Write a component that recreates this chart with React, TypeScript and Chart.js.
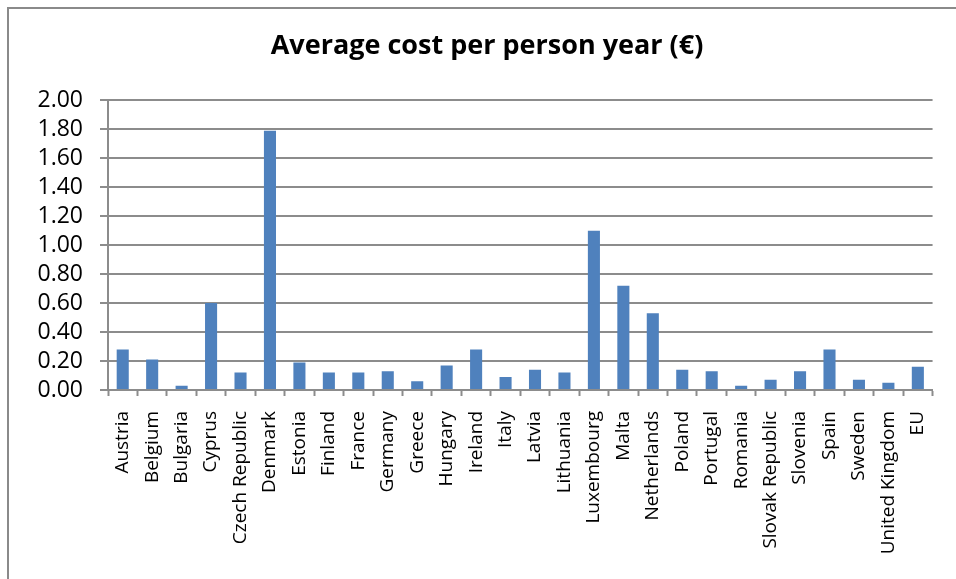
import React, { useEffect, useRef } from "react";
import { Chart, registerables } from "chart.js";

Chart.register(...registerables);

const countries: string[] = [
  "Austria", "Belgium", "Bulgaria", "Cyprus", "Czech Republic", "Denmark",
  "Estonia", "Finland", "France", "Germany", "Greece", "Hungary", "Ireland",
  "Italy", "Latvia", "Lithuania", "Luxembourg", "Malta", "Netherlands",
  "Poland", "Portugal", "Romania", "Slovak Republic", "Slovenia", "Spain",
  "Sweden", "United Kingdom", "EU",
];

const averageCost: number[] = [
  0.28, 0.21, 0.03, 0.6, 0.12, 1.79,
  0.19, 0.12, 0.12, 0.13, 0.06, 0.17, 0.28,
  0.09, 0.14, 0.12, 1.1, 0.72, 0.53,
  0.14, 0.13, 0.03, 0.07, 0.13, 0.28,
  0.07, 0.05, 0.16,
];

const chartTitle = "Average cost per person year (\u20ac)";
const yMin = 0;
const yMax = 2;
const yStep = 0.2;

const AXIS_GREY = "#8c8c8c";
const BAR_BLUE = "#4f81bd";

export default function App() {
  const canvasRef = useRef<HTMLCanvasElement | null>(null);

  useEffect(() => {
    const canvas = canvasRef.current;
    if (!canvas) return;
    const chart = new Chart(canvas, {
      type: "bar",
      data: {
        labels: countries,
        datasets: [
          {
            label: chartTitle,
            data: averageCost,
            backgroundColor: BAR_BLUE,
            borderWidth: 0,
            barPercentage: 0.41,
            categoryPercentage: 1,
          },
        ],
      },
      options: {
        animation: false,
        responsive: false,
        maintainAspectRatio: false,
        layout: { padding: { top: 0, right: 20, bottom: 0, left: 38 } },
        plugins: {
          legend: { display: false },
          tooltip: { enabled: false },
          title: {
            display: true,
            text: chartTitle,
            color: "#000000",
            font: { family: "Open Sans", size: 27, weight: "bold", lineHeight: 1.2 },
            padding: { top: 30, bottom: 38 },
          },
        },
        scales: {
          x: {
            grid: {
              display: true,
              drawOnChartArea: false,
              drawTicks: true,
              tickLength: 6,
              tickWidth: 2,
              tickColor: AXIS_GREY,
            },
            border: { display: true, color: AXIS_GREY, width: 2 },
            ticks: {
              autoSkip: false,
              maxRotation: 90,
              minRotation: 90,
              padding: 15,
              color: "#000000",
              font: { family: "Open Sans", size: 19 },
            },
            afterFit: (scale: any) => {
              scale.height = 189;
            },
          },
          y: {
            min: yMin,
            max: yMax,
            ticks: {
              stepSize: yStep,
              autoSkip: false,
              maxTicksLimit: 20,
              padding: 17,
              color: "#000000",
              font: { family: "Open Sans", size: 23, lineHeight: 1 },
              callback: (v: any) => Number(v).toFixed(2),
            },
            grid: {
              color: AXIS_GREY,
              lineWidth: 2,
              tickLength: 8,
            },
            border: { display: true, color: AXIS_GREY, width: 2 },
            afterFit: (scale: any) => {
              scale.width = 70;
            },
          },
        },
      },
    });
    return () => chart.destroy();
  }, []);

  return (
    <div
      style={{
        position: "fixed",
        left: 0,
        top: 0,
        width: 956,
        height: 579,
        overflow: "hidden",
        background: "#ffffff",
      }}
    >
      <div
        style={{
          position: "absolute",
          left: 7,
          top: 7,
          width: 1100,
          height: 800,
          border: "2px solid #8a8a8a",
          boxSizing: "border-box",
        }}
      />
      <canvas
        ref={canvasRef}
        width={956}
        height={579}
        style={{ position: "absolute", left: 0, top: 0, width: 956, height: 579 }}
      />
    </div>
  );
}
